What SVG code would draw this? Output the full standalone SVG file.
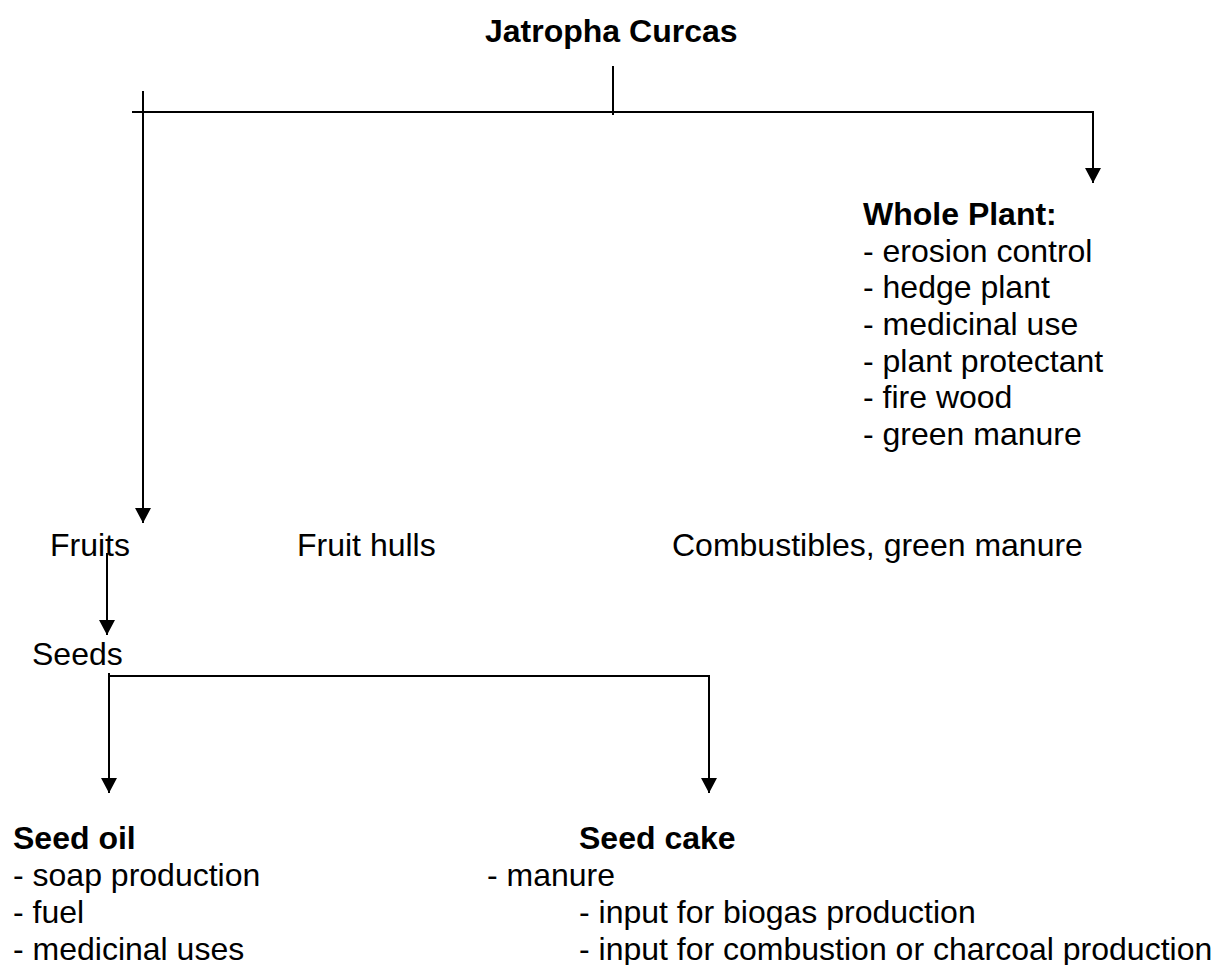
<svg xmlns="http://www.w3.org/2000/svg" width="1216" height="965" viewBox="0 0 1216 965">
  <style>
    text { font-family: "Liberation Sans", Arial, sans-serif; font-size: 32px; fill: #000; }
    .b { font-weight: bold; }
    .ln { stroke: #000; stroke-width: 2; fill: none; }
  </style>
  <defs>
    <marker id="arr" markerUnits="userSpaceOnUse" markerWidth="16" markerHeight="16" refX="15" refY="8" orient="auto">
      <path d="M0,0 L15,8 L0,16 z" fill="#000"/>
    </marker>
  </defs>
  <rect width="1216" height="965" fill="#fff"/>

  <g id="title"><text class="b" x="485" y="42">Jatropha Curcas</text></g>

  <g id="whole-plant">
    <text class="b" x="863" y="225">Whole Plant:</text>
    <text x="863" y="262">- erosion control</text>
    <text x="863" y="298">- hedge plant</text>
    <text x="863" y="335">- medicinal use</text>
    <text x="863" y="372">- plant protectant</text>
    <text x="863" y="408">- fire wood</text>
    <text x="863" y="445">- green manure</text>
  </g>

  <g id="fruits"><text x="50" y="556">Fruits</text></g>
  <g id="fruit-hulls"><text x="297" y="556">Fruit hulls</text></g>
  <g id="combustibles"><text x="672" y="556">Combustibles, green manure</text></g>
  <g id="seeds"><text x="32" y="665">Seeds</text></g>

  <g id="seed-oil">
    <text class="b" x="13" y="849">Seed oil</text>
    <text x="13" y="886">- soap production</text>
    <text x="13" y="923">- fuel</text>
    <text x="13" y="960">- medicinal uses</text>
  </g>

  <g id="seed-cake">
    <text class="b" x="579" y="849">Seed cake</text>
    <text x="487" y="886">- manure</text>
    <text x="579" y="923">- input for biogas production</text>
    <text x="579" y="960">- input for combustion or charcoal production</text>
  </g>

  <g id="connectors">
    <line class="ln" x1="613" y1="66" x2="613" y2="115"/>
    <line class="ln" x1="132" y1="112" x2="1094" y2="112"/>
    <line class="ln" x1="143" y1="91" x2="143" y2="523" marker-end="url(#arr)"/>
    <line class="ln" x1="1093" y1="111" x2="1093" y2="183" marker-end="url(#arr)"/>
    <line class="ln" x1="107" y1="553" x2="107" y2="635" marker-end="url(#arr)"/>
    <polyline class="ln" points="109,673 109,676 709,676 709,677"/>
    <line class="ln" x1="109" y1="673" x2="109" y2="793" marker-end="url(#arr)"/>
    <line class="ln" x1="709" y1="675" x2="709" y2="793" marker-end="url(#arr)"/>
  </g>
</svg>
